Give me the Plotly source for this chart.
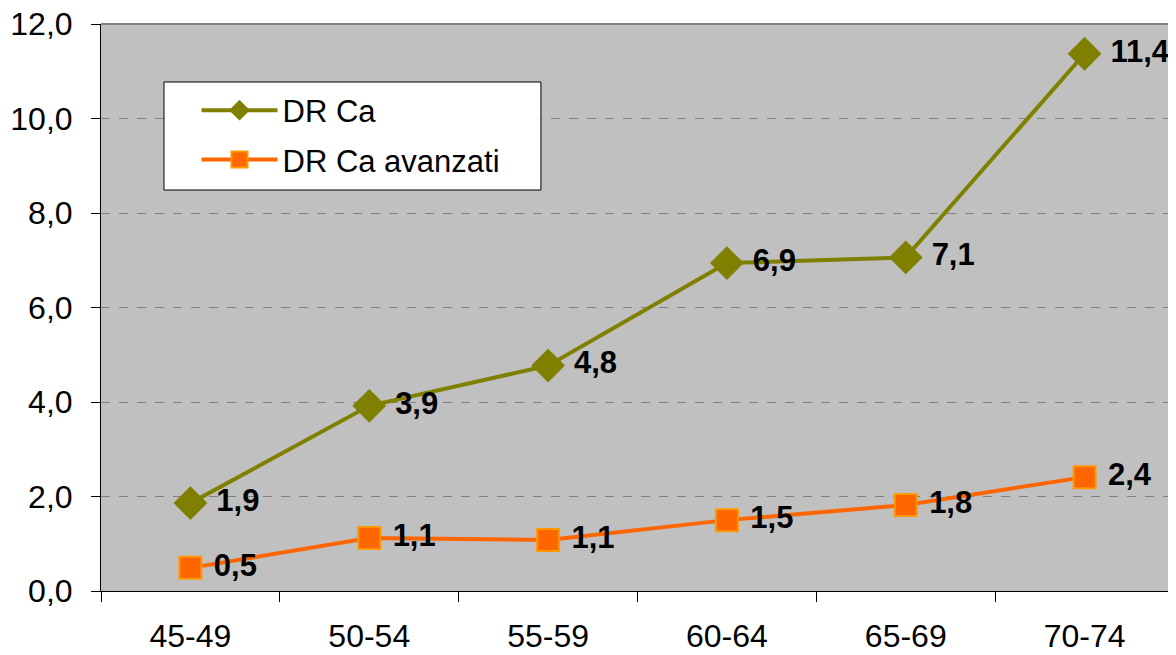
import plotly.graph_objects as go

OLIVE = "#808000"
ORANGE = "#FF6600"
ORANGE_EDGE = "#FF9900"
PLOT_BG = "#C0C0C0"
BLACK = "#000000"
FONT = "Liberation Sans, Arial, sans-serif"

age_groups = ["45-49", "50-54", "55-59", "60-64", "65-69", "70-74"]
dr_ca = [1.86, 3.92, 4.77, 6.94, 7.06, 11.37]
dr_ca_avanzati = [0.49, 1.12, 1.08, 1.50, 1.82, 2.41]
y_ticks = [0, 2, 4, 6, 8, 10, 12]

# the page body has an 8px margin, so the figure is 8px smaller than the window
W, H = 1168, 647

fig = go.Figure()

fig.add_trace(go.Scatter(
    x=age_groups,
    y=dr_ca,
    name="DR Ca",
    legendgroup="a",
    mode="lines+markers+text",
    line=dict(color=OLIVE, width=4),
    marker=dict(symbol="diamond", size=26, color=OLIVE),
    texttemplate="\u00a0<b>%{y:.1f}</b>",
    textposition="middle right",
    textfont=dict(size=31, color=BLACK, family=FONT),
    cliponaxis=False,
))

fig.add_trace(go.Scatter(
    x=age_groups,
    y=dr_ca_avanzati,
    name="DR Ca avanzati",
    legendgroup="b",
    mode="lines+markers+text",
    line=dict(color=ORANGE, width=4),
    marker=dict(symbol="square", size=22, color=ORANGE,
                line=dict(color=ORANGE_EDGE, width=2)),
    texttemplate="\u00a0<b>%{y:.1f}</b>",
    textposition="middle right",
    textfont=dict(size=31, color=BLACK, family=FONT),
    cliponaxis=False,
))

# legend frame drawn as a shape so the padding matches the original
fig.add_shape(
    type="rect", xref="paper", yref="paper",
    x0=0.0587, x1=0.4100, y0=0.7072, y1=0.8977,
    fillcolor="white", line=dict(color=BLACK, width=1),
    layer="above",
)

# grey frame on the top and right of the plot area
fig.add_shape(type="line", xref="paper", yref="paper",
              x0=0, x1=1, y0=1, y1=1,
              line=dict(color="#808080", width=2))
fig.add_shape(type="line", xref="paper", yref="paper",
              x0=1, x1=1, y0=0, y1=1,
              line=dict(color="#808080", width=2))

fig.update_layout(
    width=W,
    height=H,
    paper_bgcolor="white",
    plot_bgcolor=PLOT_BG,
    separators=",.",
    font=dict(family=FONT, size=32, color=BLACK),
    margin=dict(l=93, r=2, t=16, b=64),
    showlegend=True,
    legend=dict(
        x=0.089, y=0.895, xanchor="left", yanchor="top",
        bgcolor="rgba(0,0,0,0)", borderwidth=0,
        font=dict(size=31, color=BLACK),
        itemwidth=76,
        tracegroupgap=6,
    ),
    xaxis=dict(
        type="category",
        range=[-0.5, 5.5],
        automargin=False,
        showgrid=False,
        showline=True, linecolor=BLACK, linewidth=1,
        ticks="outside", tickson="boundaries", ticklen=10,
        tickcolor=BLACK,
        ticklabelstandoff=17,
        ticklabeloverflow="allow",
        tickfont=dict(size=32),
    ),
    yaxis=dict(
        range=[0, 12],
        automargin=False,
        tickvals=y_ticks,
        tickformat=".1f",
        showgrid=True, gridcolor="#808080", griddash="dash", gridwidth=1,
        zeroline=False,
        showline=True, linecolor=BLACK, linewidth=1,
        ticks="outside", ticklen=9, tickcolor=BLACK,
        ticklabelstandoff=12,
        ticklabeloverflow="allow",
        tickfont=dict(size=32),
    ),
)

fig.write_html("out.html")
